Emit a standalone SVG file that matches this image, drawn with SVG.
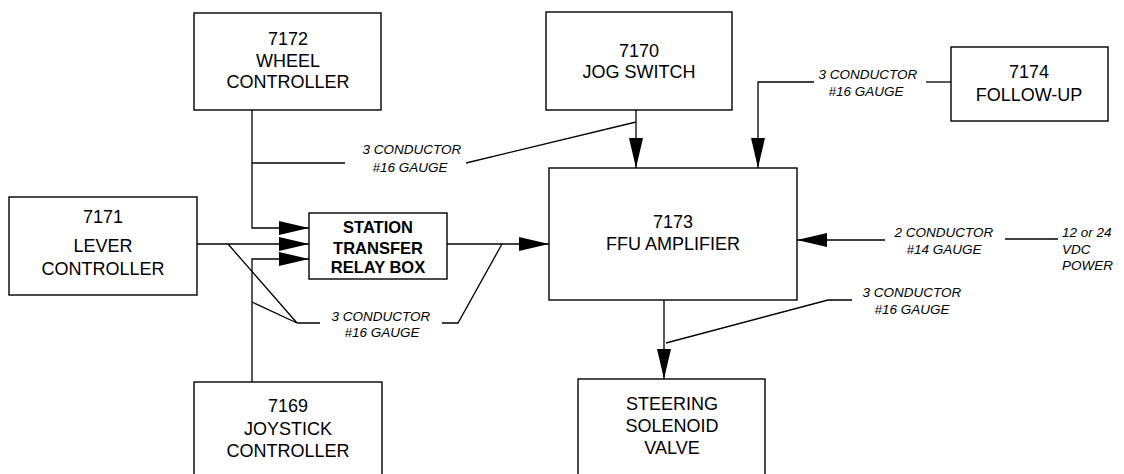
<svg xmlns="http://www.w3.org/2000/svg" width="1124" height="474" viewBox="0 0 1124 474">
<style>
.box{fill:#fff;stroke:#000;stroke-width:1.4}
.ln{fill:none;stroke:#000;stroke-width:1.3}
.t{font-family:"Liberation Sans",Arial,sans-serif;font-size:18px;text-anchor:middle;fill:#000}
.b{font-family:"Liberation Sans",Arial,sans-serif;font-size:16.5px;font-weight:bold;text-anchor:middle;fill:#000}
.i{font-family:"Liberation Sans",Arial,sans-serif;font-size:13.5px;font-style:italic;text-anchor:middle;fill:#000}
.il{font-family:"Liberation Sans",Arial,sans-serif;font-size:13.5px;font-style:italic;fill:#000}
</style>
<defs>
<marker id="ah" viewBox="0 0 30 14" refX="30" refY="7" markerWidth="30" markerHeight="14" markerUnits="userSpaceOnUse" orient="auto">
<path d="M0,0 L30,7 L0,14 Z" fill="#000"/>
</marker>
</defs>
<rect width="1124" height="474" fill="#fff"/>

<g id="connectors">
<path class="ln" d="M252,110 V228 H309" marker-end="url(#ah)"/>
<path class="ln" d="M252,163 H345"/>
<path class="ln" d="M466,163 L636,122"/>
<path class="ln" d="M636,110 V168" marker-end="url(#ah)"/>
<path class="ln" d="M951,82 H926"/>
<path class="ln" d="M814,82 H758 V168" marker-end="url(#ah)"/>
<path class="ln" d="M197,244 H309" marker-end="url(#ah)"/>
<path class="ln" d="M228,244 L297,323 M252,302 L297,323 M297,323 H320"/>
<path class="ln" d="M252,382 V259 H309" marker-end="url(#ah)"/>
<path class="ln" d="M447,244 H549" marker-end="url(#ah)"/>
<path class="ln" d="M442,323 H458 L502,244"/>
<path class="ln" d="M885,240 H797" marker-end="url(#ah)"/>
<path class="ln" d="M1005,239 H1058"/>
<path class="ln" d="M664,300 V379" marker-end="url(#ah)"/>
<path class="ln" d="M666,343 L828,300 H852"/>
</g>

<g id="wheel">
<rect class="box" x="194" y="13" width="187" height="97"/>
<text class="t" x="288" y="45">7172</text>
<text class="t" x="288" y="67">WHEEL</text>
<text class="t" x="288" y="88">CONTROLLER</text>
</g>
<g id="jog">
<rect class="box" x="546" y="12" width="186" height="98"/>
<text class="t" x="639" y="57">7170</text>
<text class="t" x="639" y="78">JOG SWITCH</text>
</g>
<g id="followup">
<rect class="box" x="951" y="47" width="157" height="74"/>
<text class="t" x="1029" y="78">7174</text>
<text class="t" x="1029" y="101">FOLLOW-UP</text>
</g>
<g id="lever">
<rect class="box" x="9" y="197" width="188" height="98"/>
<text class="t" x="103" y="223">7171</text>
<text class="t" x="103" y="252">LEVER</text>
<text class="t" x="103" y="275">CONTROLLER</text>
</g>
<g id="relay">
<rect class="box" x="309" y="213" width="138" height="66"/>
<text class="b" x="378" y="233">STATION</text>
<text class="b" x="378" y="254">TRANSFER</text>
<text class="b" x="378" y="273">RELAY BOX</text>
</g>
<g id="ffu">
<rect class="box" x="549" y="168" width="248" height="132"/>
<text class="t" x="673" y="228">7173</text>
<text class="t" x="673" y="250">FFU AMPLIFIER</text>
</g>
<g id="joystick">
<rect class="box" x="194" y="382" width="188" height="100"/>
<text class="t" x="288" y="412">7169</text>
<text class="t" x="288" y="435">JOYSTICK</text>
<text class="t" x="288" y="457">CONTROLLER</text>
</g>
<g id="steering">
<rect class="box" x="578" y="379" width="187" height="103"/>
<text class="t" x="672" y="410">STEERING</text>
<text class="t" x="672" y="432">SOLENOID</text>
<text class="t" x="672" y="454">VALVE</text>
</g>

<g id="labels">
<text class="i" x="412" y="154">3 CONDUCTOR</text>
<text class="i" x="410" y="171.5">#16 GAUGE</text>
<text class="i" x="868" y="79">3 CONDUCTOR</text>
<text class="i" x="866" y="95.5">#16 GAUGE</text>
<text class="i" x="381" y="320.5">3 CONDUCTOR</text>
<text class="i" x="382" y="336.5">#16 GAUGE</text>
<text class="i" x="912" y="296.5">3 CONDUCTOR</text>
<text class="i" x="912" y="314">#16 GAUGE</text>
<text class="i" x="944" y="237">2 CONDUCTOR</text>
<text class="i" x="944" y="254">#14 GAUGE</text>
<text class="il" x="1062" y="237">12 or 24</text>
<text class="il" x="1062" y="254">VDC</text>
<text class="il" x="1062" y="270">POWER</text>
</g>
</svg>
